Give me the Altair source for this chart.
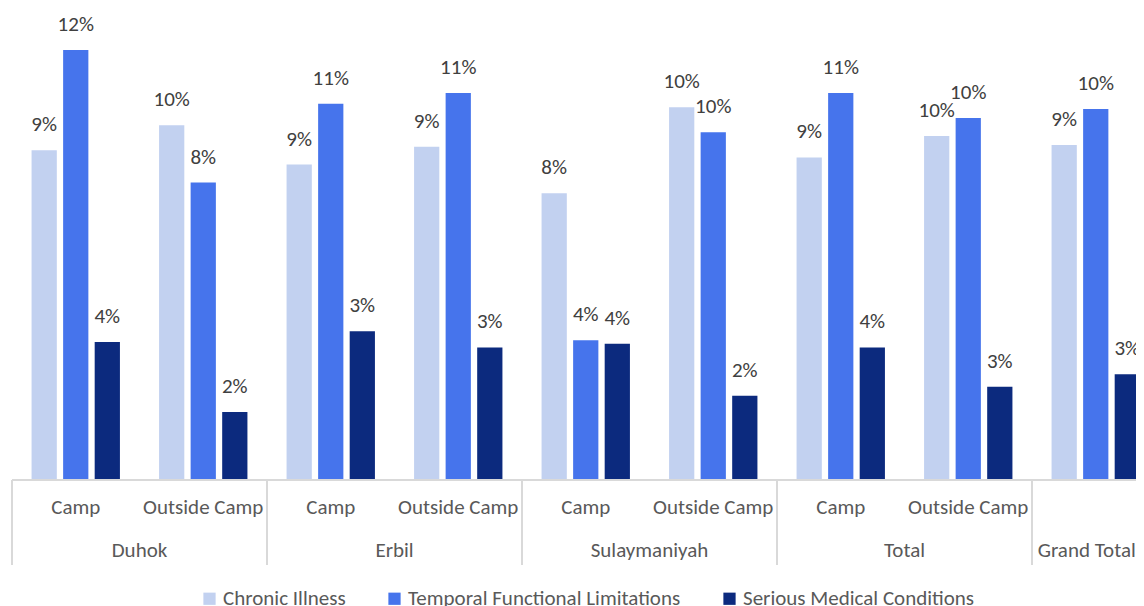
import altair as alt
import pandas as pd

regions = ["Duhok", "Duhok", "Erbil", "Erbil", "Sulaymaniyah", "Sulaymaniyah", "Total", "Total", "Grand Total"]
subs = ["Camp", "Outside Camp", "Camp", "Outside Camp", "Camp", "Outside Camp", "Camp", "Outside Camp", ""]
series = ["Chronic Illness", "Temporal Functional Limitations", "Serious Medical Conditions"]
colors = ["#c2d1f0", "#4674ec", "#0c2a7e"]

chronic = [9.2, 9.9, 8.8, 9.3, 8.0, 10.4, 9.0, 9.6, 9.35]
temporal = [12.0, 8.3, 10.5, 10.8, 3.9, 9.7, 10.8, 10.1, 10.35]
serious = [3.85, 1.9, 4.15, 3.7, 3.8, 2.35, 3.7, 2.6, 2.95]

chronic_lbl = ["9%", "10%", "9%", "9%", "8%", "10%", "9%", "10%", "9%"]
temporal_lbl = ["12%", "8%", "11%", "11%", "4%", "10%", "11%", "10%", "10%"]
serious_lbl = ["4%", "2%", "3%", "3%", "4%", "2%", "4%", "3%", "3%"]

FONT = "Carlito, Calibri, Lato, sans-serif"
FS = 21
keys = [f"{r}|{s}" for r, s in zip(regions, subs)]

rows = []
for vals, lbls, name in zip([chronic, temporal, serious], [chronic_lbl, temporal_lbl, serious_lbl], series):
    for k, r, s, v, l in zip(keys, regions, subs, vals, lbls):
        rows.append({"key": k, "region": r, "sub": s, "series": name, "value": v, "label": l})
df = pd.DataFrame(rows)

cats = pd.DataFrame({"key": keys, "region": regions, "sub": subs})
first_keys = []
seen = set()
for k, r in zip(keys, regions):
    if r not in seen:
        seen.add(r)
        first_keys.append(k)
first_df = cats[cats["key"].isin(first_keys)]
pair_df = first_df[first_df["region"] != "Grand Total"]
single_df = first_df[first_df["region"] == "Grand Total"]

FULL = 1147.5
xscale = alt.Scale(domain=keys, range=[0, FULL], paddingInner=0, paddingOuter=0)
x = alt.X("key:N", scale=xscale, axis=None)
yscale = alt.Scale(domain=[0, 13.17], nice=False)
xoff = alt.XOffset("series:N", sort=series, scale=alt.Scale(domain=series, paddingInner=0.2, paddingOuter=0.62))

bars = alt.Chart(df).mark_bar().encode(
    x=x,
    xOffset=xoff,
    y=alt.Y("value:Q", scale=yscale, axis=None),
    color=alt.Color("series:N", sort=series, scale=alt.Scale(domain=series, range=colors),
                    legend=alt.Legend(title=None, orient="none", direction="horizontal",
                                      legendX=187, legendY=580, symbolType="square", symbolSize=150,
                                      symbolStrokeWidth=0, labelFont=FONT, labelFontSize=FS,
                                      labelColor="#595959", columnPadding=38, labelOffset=3,
                                      labelLimit=1000)),
)

value_labels = alt.Chart(df).mark_text(font=FONT, fontSize=FS, color="#404040", baseline="alphabetic", dy=-19).encode(
    x=x,
    xOffset=xoff,
    y=alt.Y("value:Q", scale=yscale),
    text="label:N",
)

baseline = alt.Chart(cats.head(1)).mark_rule(color="#d9d9d9", strokeWidth=2).encode(
    x=alt.X("key:N", scale=xscale, bandPosition=0, axis=None),
    x2=alt.value(FULL),
    y=alt.value(472),
)

seps = alt.Chart(first_df).mark_rule(color="#d9d9d9", strokeWidth=2).encode(
    x=alt.X("key:N", scale=xscale, bandPosition=0, axis=None),
    y=alt.value(472),
    y2=alt.value(557),
)

sub_text = alt.Chart(cats).mark_text(font=FONT, fontSize=FS, color="#595959", baseline="middle").encode(
    x=x,
    y=alt.value(500),
    text="sub:N",
)

region_pair = alt.Chart(pair_df).mark_text(font=FONT, fontSize=FS, color="#595959", baseline="middle").encode(
    x=alt.X("key:N", scale=xscale, bandPosition=1, axis=None),
    y=alt.value(543),
    text="region:N",
)
region_single = alt.Chart(single_df).mark_text(font=FONT, fontSize=FS, color="#595959", baseline="middle", dx=-9).encode(
    x=alt.X("key:N", scale=xscale, bandPosition=0.5, axis=None),
    y=alt.value(543),
    text="region:N",
)

chart = alt.layer(bars, value_labels, baseline, seps, sub_text, region_pair, region_single).properties(
    width=1124, height=472,
    autosize=alt.AutoSizeParams(type="none"),
    padding={"left": 4, "top": 0, "right": 0, "bottom": 126},
).configure_view(stroke=None)

chart.save("out.html", embed_options={"renderer": "svg", "actions": False})
